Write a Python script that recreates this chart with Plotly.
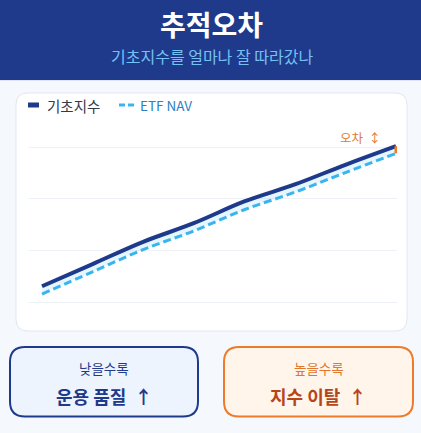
import plotly.graph_objects as go

# ---- data ----
periods = [0, 1, 2, 3, 4, 5, 6, 7]
index_vals = [103.1, 107.4, 111.7, 115.3, 119.5, 122.8, 126.6, 130.2]
nav_vals = [101.6, 105.9, 110.2, 113.8, 117.9, 121.3, 125.1, 128.8]
series_names = ["기초지수", "ETF NAV"]
title_text = "추적오차"
subtitle_text = "기초지수를 얼마나 잘 따라갔나"
error_label = "오차 \u00a0↕"
left_box = ["낮을수록", "운용 품질 \u00a0↑"]
right_box = ["높을수록", "지수 이탈 \u00a0↑"]

W, H = 421, 433
FONT = "Noto Sans CJK KR"
NAVY = "#1e3a8a"
SKY = "#3ab4ef"
ORANGE = "#ee7b2c"


def X(px):
    return px / W


def Y(py):
    return 1 - py / H


def rrect(x0, y0, x1, y1, r):
    pts = [
        ("M", [(x0 + r, y0)]),
        ("L", [(x1 - r, y0)]),
        ("Q", [(x1, y0), (x1, y0 + r)]),
        ("L", [(x1, y1 - r)]),
        ("Q", [(x1, y1), (x1 - r, y1)]),
        ("L", [(x0 + r, y1)]),
        ("Q", [(x0, y1), (x0, y1 - r)]),
        ("L", [(x0, y0 + r)]),
        ("Q", [(x0, y0), (x0 + r, y0)]),
    ]
    s = ""
    for cmd, ps in pts:
        s += cmd + " " + " ".join(f"{X(a):.5f},{Y(b):.5f}" for a, b in ps) + " "
    return s + "Z"


fig = go.Figure()

# fill between lines
fig.add_trace(go.Scatter(x=periods, y=nav_vals, mode="lines", line=dict(width=0, shape="spline"),
                         showlegend=False, hoverinfo="skip"))
fig.add_trace(go.Scatter(x=periods, y=index_vals, mode="lines", line=dict(width=0, shape="spline"),
                         fill="tonexty", fillcolor="rgba(56,189,248,0.13)", showlegend=False, hoverinfo="skip"))
# lines
fig.add_trace(go.Scatter(x=periods, y=nav_vals, mode="lines", name=series_names[1],
                         line=dict(color=SKY, width=3, dash="8px,4px", shape="spline"), showlegend=False))
fig.add_trace(go.Scatter(x=periods, y=index_vals, mode="lines", name=series_names[0],
                         line=dict(color=NAVY, width=4, shape="spline"), showlegend=False))
# error bar at last point
fig.add_trace(go.Scatter(x=[periods[-1], periods[-1]], y=[nav_vals[-1], index_vals[-1]], mode="lines",
                         line=dict(color=ORANGE, width=3), showlegend=False, hoverinfo="skip"))

shapes = [
    # header
    dict(type="rect", xref="paper", yref="paper", x0=0, x1=1, y0=Y(80), y1=1,
         fillcolor="#1f3a8a", line=dict(width=0), layer="below"),
    dict(type="line", xref="paper", yref="paper", x0=0, x1=1, y0=Y(80.5), y1=Y(80.5),
         line=dict(color="#dfe3f3", width=1), layer="below"),
    # chart card
    dict(type="path", xref="paper", yref="paper", path=rrect(16, 93, 407, 331, 12),
         fillcolor="#ffffff", line=dict(color="#e1e7ef", width=1), layer="below"),
    # bottom boxes
    dict(type="path", xref="paper", yref="paper", path=rrect(10, 347, 198, 416.5, 15),
         fillcolor="#eef4fe", line=dict(color=NAVY, width=2), layer="below"),
    dict(type="path", xref="paper", yref="paper", path=rrect(224, 347, 413, 416.5, 15),
         fillcolor="#fff5eb", line=dict(color=ORANGE, width=2), layer="below"),
    # legend symbols
    dict(type="line", xref="paper", yref="paper", x0=X(28), x1=X(39), y0=Y(105), y1=Y(105),
         line=dict(color=NAVY, width=5)),
    dict(type="line", xref="paper", yref="paper", x0=X(119), x1=X(125), y0=Y(105), y1=Y(105),
         line=dict(color=SKY, width=3)),
    dict(type="line", xref="paper", yref="paper", x0=X(128), x1=X(134), y0=Y(105), y1=Y(105),
         line=dict(color=SKY, width=3)),
]

ann = [
    dict(text=f"<b>{title_text}</b>", x=X(211), y=Y(24), font=dict(size=28, color="white")),
    dict(text=subtitle_text, x=X(211.5), y=Y(56), font=dict(size=16, color="#74c1f6")),
    dict(text=series_names[0], x=X(45), y=Y(105), xanchor="left", font=dict(size=14.5, color="#343a4a")),
    dict(text=series_names[1], x=X(138), y=Y(105), xanchor="left", font=dict(size=13.5, color="#2f80c0")),
    dict(text=error_label, x=X(360), y=Y(138), font=dict(size=12.5, color="#e07a32")),
    dict(text=left_box[0], x=X(104), y=Y(368), font=dict(size=13.5, color=NAVY)),
    dict(text=f"<b>{left_box[1]}</b>", x=X(104), y=Y(396), font=dict(size=18, color=NAVY)),
    dict(text=right_box[0], x=X(318.5), y=Y(368), font=dict(size=13.5, color="#e2772f")),
    dict(text=f"<b>{right_box[1]}</b>", x=X(318.5), y=Y(396), font=dict(size=18, color="#b5461a")),
]
for a in ann:
    a.setdefault("xanchor", "center")
    a.update(xref="paper", yref="paper", yanchor="middle", showarrow=False)

fig.update_layout(
    width=W, height=H,
    margin=dict(l=0, r=0, t=0, b=0),
    paper_bgcolor="#f5f8fc",
    plot_bgcolor="rgba(0,0,0,0)",
    font=dict(family=FONT),
    showlegend=False,
    shapes=shapes,
    annotations=ann,
    xaxis=dict(domain=[X(28), X(397)], range=[-0.277, 7.02], showgrid=False, zeroline=False,
               showticklabels=False, showline=False, fixedrange=True),
    yaxis=dict(domain=[Y(322), Y(118)], range=[96.19, 135.65], tick0=100, dtick=10,
               showgrid=True, gridcolor="#eef1f5", gridwidth=1, zeroline=False,
               showticklabels=False, showline=False, fixedrange=True),
)

fig.write_html("out.html", config={"displayModeBar": False},
               post_script="document.body.style.margin='0';document.body.style.overflow='hidden';")
